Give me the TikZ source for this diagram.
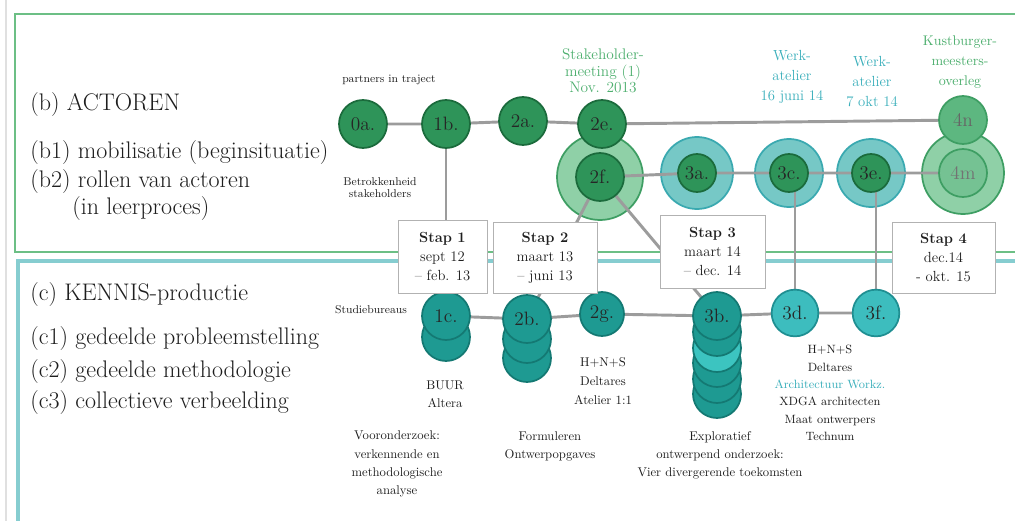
\documentclass[tikz,border=0pt]{standalone}
\pgfdeclarelayer{back}
\pgfdeclarelayer{mid}
\pgfsetlayers{back,mid,main}
\definecolor{frgreen}{HTML}{6CBF85}
\definecolor{frteal}{HTML}{86CDD0}
\definecolor{dkgreen}{HTML}{2E9459}
\definecolor{dkgreenb}{HTML}{1B6B3C}
\definecolor{ltgreen}{HTML}{8FD0A7}
\definecolor{ringgb}{HTML}{3E9E63}
\definecolor{midgreen}{HTML}{5DB780}
\definecolor{tealring}{HTML}{76C8C6}
\definecolor{tealringb}{HTML}{3AA9B0}
\definecolor{dkteal}{HTML}{1E9A92}
\definecolor{dktealb}{HTML}{147973}
\definecolor{ltteal}{HTML}{3CC4C0}
\definecolor{mdteal}{HTML}{3DBDBE}
\definecolor{mdtealb}{HTML}{1F8F92}
\definecolor{lnk}{HTML}{9C9C9C}
\definecolor{lblgreen}{HTML}{4DAF6E}
\definecolor{lblteal}{HTML}{3AAFBB}
\definecolor{txt}{HTML}{1E1E1E}
\tikzset{
  base/.style={circle, inner sep=0pt, line width=1.3pt, font=\fontsize{14.5}{14.5}\selectfont},
  gnode/.style={base, draw=dkgreenb, fill=dkgreen, minimum size=36pt, text=black!85},
  ginner/.style={base, draw=dkgreenb, fill=dkgreen, minimum size=28.5pt, text=black!85},
  gring/.style={circle, draw=ringgb, fill=ltgreen, line width=1.3pt, inner sep=0pt},
  tring/.style={circle, draw=tealringb, fill=tealring, line width=1.3pt, inner sep=0pt, minimum size=51pt},
  tnode/.style={base, draw=dktealb, fill=dkteal, minimum size=36pt, text=black!85},
  tstack/.style={circle, draw=dktealb, fill=dkteal, line width=1.3pt, inner sep=0pt, minimum size=36pt},
  mnode/.style={base, draw=mdtealb, fill=mdteal, minimum size=35pt, text=black!85},
  conn/.style={draw=lnk, line width=2.2pt},
  stapbox/.style={draw=black!30, fill=white, line width=0.6pt, align=center, inner sep=0pt,
    font=\fontsize{11}{14.2}\selectfont, text=txt},
  title/.style={anchor=west, inner sep=0pt, font=\fontsize{18}{20}\selectfont, text=txt},
  small/.style={inner sep=0pt, align=center, font=\fontsize{8.5}{9}\selectfont, text=txt},
  desc/.style={inner sep=0pt, align=center, font=\fontsize{9.5}{13.6}\selectfont, text=txt},
  glabel/.style={inner sep=0pt, align=center, font=\fontsize{11.5}{12.5}\selectfont, text=lblgreen},
  tlabel/.style={inner sep=0pt, align=center, font=\fontsize{11}{15}\selectfont, text=lblteal},
}
\begin{document}
\begin{tikzpicture}[x=0.75pt, y=-0.75pt]
\useasboundingbox (0,0) rectangle (1015,521);

% frames
\begin{pgfonlayer}{back}
\fill[white] (0,0) rectangle (1015,521);
\draw[black!12, line width=1.2pt] (6,0) -- (6,521);
\draw[frgreen, line width=1.8pt] (1040,14) -- (15,14) -- (15,252) -- (1040,252);
\draw[frteal, line width=2.6pt] (1040,261) -- (18,261) -- (18,540);
\end{pgfonlayer}

% left titles
\node[title] (tb)  at (30,105) {(b) ACTOREN};
\node[title] (tb1) at (30,153) {(b1) mobilisatie (beginsituatie)};
\node[title] (tb2) at (30,182) {(b2) rollen van actoren};
\node[title] (tb3) at (72,209) {(in leerproces)};
\node[title] (tc)  at (30,295) {(c) KENNIS-productie};
\node[title] (tc1) at (30,339) {(c1) gedeelde probleemstelling};
\node[title] (tc2) at (30,372) {(c2) gedeelde methodologie};
\node[title] (tc3) at (30,403) {(c3) collectieve verbeelding};

% outer rings (behind connectors)
\begin{pgfonlayer}{back}
\node[gring, minimum size=64.5pt] (o2f) at (600,177) {};
\node[tring, minimum size=54pt] (o3a) at (697,173) {};
\node[tring] (o3c) at (789,173) {};
\node[tring] (o3e) at (871,173) {};
\node[gring, minimum size=61.5pt] (o4m) at (963,173) {};
\end{pgfonlayer}

% top row
\node[gnode] (n0a) at (363,124) {0a.};
\node[gnode] (n1b) at (446,124) {1b.};
\node[gnode] (n2a) at (523,121) {2a.};
\node[gnode] (n2e) at (602,124) {2e.};
\node[gnode] (n2f) at (600,177) {2f.};
\node[ginner] (n3a) at (697,173) {3a.};
\node[ginner] (n3c) at (789,173) {3c.};
\node[ginner] (n3e) at (871,173) {3e.};
\node[base, draw=ringgb, fill=midgreen!85!white, minimum size=36pt, text=black!55] (n4m) at (963,173) {4m};
\node[base, draw=ringgb, fill=midgreen, minimum size=36pt, text=black!60] (n4n) at (963,120) {4n};

% stacks (lower circles first)
\node[tstack] (s1c) at (446,337) {};
\node[tstack] (s2b2) at (527,358) {};
\node[tstack] (s2b1) at (527,339) {};
\node[tstack] (s3b5) at (717,394) {};
\node[tstack] (s3b4) at (717,379) {};
\node[tstack] (s3b3) at (717,363) {};
\node[tstack, fill=ltteal] (s3b2) at (717,348) {};
\node[tstack] (s3b1) at (717,332) {};

% bottom row
\node[tnode] (n1c) at (446,316) {1c.};
\node[tnode] (n2b) at (527,319) {2b.};
\node[tnode, minimum size=33pt] (n2g) at (602,314) {2g.};
\node[tnode] (n3b) at (717,316) {3b.};
\node[mnode] (n3d) at (795,313) {3d.};
\node[mnode] (n3f) at (876,313) {3f.};

% connectors
\begin{pgfonlayer}{mid}
\draw[conn] (n0a.center) -- (n1b.center) -- (n2a.center) -- (n2e.center) -- (n4n.center);
\draw[conn] (n2f.center) -- (n3a.center) -- (n3c.center) -- (n3e.center) -- (n4m.center);
\draw[conn] (n1b.center) -- (n1c.center);
\draw[conn] (n2f.center) -- (n2b.center);
\draw[conn] (n2f.center) -- (n3b.center);
\draw[conn] (n3d.center) -- (n3d.center |- n3c.center);
\draw[conn] (n3f.center) -- (n3f.center |- n3e.center);
\draw[conn] (n1c.center) -- (n2b.center) -- (n2g.center) -- (n3b.center) -- (n3d.center) -- (n3f.center);
\end{pgfonlayer}

% step boxes
\node[stapbox, minimum width=66.75pt, minimum height=54.75pt] (st1) at (442.5,256.5)
  {\textbf{Stap 1}\\sept 12\\-- feb. 13};
\node[stapbox, minimum width=78pt, minimum height=53.25pt] (st2) at (545,257.5)
  {\textbf{Stap 2}\\maart 13\\-- juni 13};
\node[stapbox, minimum width=78.75pt, minimum height=54.75pt] (st3) at (712.5,251.5)
  {\textbf{Stap 3}\\maart 14\\-- dec. 14};
\node[stapbox, minimum width=77.25pt, minimum height=53.25pt] (st4) at (943.5,257.5)
  {\textbf{Stap 4}\\dec.14\\- okt. 15};

% labels
\node[small, anchor=west] (lpart) at (342,80) {partners in traject};
\node[small] (lbetr) at (380,188) {Betrokkenheid\\stakeholders};
\node[glabel] (lstake) at (603,71) {Stakeholder-\\meeting (1)\\Nov. 2013};
\node[tlabel] (lwa1) at (792,77) {Werk-\\atelier\\16 juni 14};
\node[tlabel] (lwa2) at (872,82) {Werk-\\atelier\\7 okt 14};
\node[glabel, font=\fontsize{10.5}{15}\selectfont] (lkust) at (960,62) {Kustburger-\\meesters-\\overleg};
\node[small] (lstud) at (371,310) {Studiebureaus};
\node[desc] (lbuur) at (445,394) {BUUR\\Altera};
\node[desc, font=\fontsize{9.5}{14}\selectfont] (lhns1) at (603,381) {H+N+S\\Deltares\\Atelier 1:1};
\node[desc] (lvoor) at (397,464) {Vooronderzoek:\\verkennende en\\methodologische\\analyse};
\node[desc] (lform) at (550,446) {Formuleren\\Ontwerpopgaves};
\node[desc] (lexpl) at (720,455) {Exploratief\\ontwerpend onderzoek:\\Vier divergerende toekomsten};
\node[desc, font=\fontsize{9}{13}\selectfont] (lhns2) at (830,393)
  {H+N+S\\Deltares\\\textcolor{lblteal}{Architectuur Workz.}\\XDGA architecten\\Maat ontwerpers\\Technum};
\end{tikzpicture}
\end{document}
